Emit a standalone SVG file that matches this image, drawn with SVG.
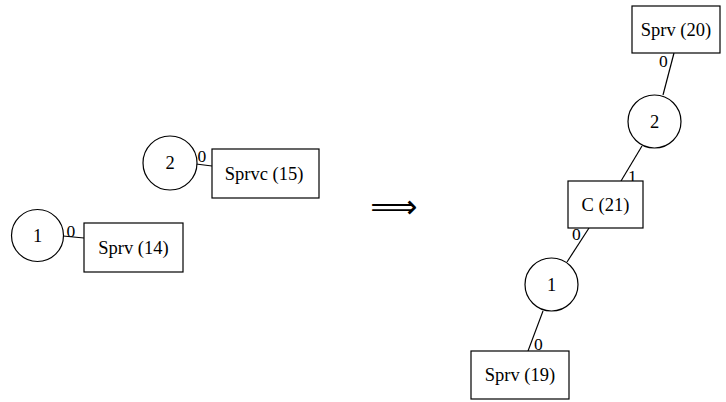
<svg xmlns="http://www.w3.org/2000/svg" width="726" height="402" viewBox="0 0 726 402">
<style>
.n{fill:#fff;stroke:#000;stroke-width:1.2}
.t{font-family:"Liberation Serif","Times New Roman",serif;font-size:18.5px;text-anchor:middle;fill:#000}
.l{font-family:"Liberation Serif","Times New Roman",serif;font-size:17.5px;fill:#000}
.e{stroke:#000;stroke-width:1.2;fill:none}
</style>
<rect width="726" height="402" fill="#fff"/>
<g id="connectors">
<line class="e" x1="196" y1="164" x2="212" y2="166"/>
<line class="e" x1="63" y1="236" x2="84" y2="238"/>
<line class="e" x1="674" y1="53" x2="663" y2="95"/>
<line class="e" x1="642" y1="146" x2="621" y2="181"/>
<line class="e" x1="589" y1="228" x2="567" y2="262"/>
<line class="e" x1="543" y1="311" x2="528" y2="351"/>
<text class="l" x="197.5" y="162">0</text>
<text class="l" x="66.5" y="237">0</text>
<text class="l" x="659" y="67">0</text>
<text class="l" x="628" y="182">1</text>
<text class="l" x="572" y="240">0</text>
<text class="l" x="534" y="350">0</text>
</g>
<g id="L2"><circle class="n" cx="170" cy="163" r="27"/><text class="t" x="170" y="169">2</text></g>
<g id="S15"><rect class="n" x="212" y="149" width="107" height="49"/><text class="t" x="264" y="180">Sprvc (15)</text></g>
<g id="L1"><circle class="n" cx="37.5" cy="235.5" r="26"/><text class="t" x="37.5" y="241.5">1</text></g>
<g id="S14"><rect class="n" x="84" y="223" width="99" height="49"/><text class="t" x="133.5" y="254">Sprv (14)</text></g>
<g id="arrow"><text x="394" y="218" style="font-family:'DejaVu Sans',sans-serif;font-size:33px;text-anchor:middle">⟹</text></g>
<g id="S20"><rect class="n" x="632" y="6" width="88" height="47"/><text class="t" x="676" y="36">Sprv (20)</text></g>
<g id="R2"><circle class="n" cx="654.5" cy="121.5" r="26.5"/><text class="t" x="654.5" y="127.5">2</text></g>
<g id="C21"><rect class="n" x="568" y="181" width="75" height="47"/><text class="t" x="605.5" y="211">C (21)</text></g>
<g id="R1"><circle class="n" cx="551.5" cy="284.5" r="26.5"/><text class="t" x="551.5" y="290.5">1</text></g>
<g id="S19"><rect class="n" x="471" y="351" width="98" height="48"/><text class="t" x="520" y="381">Sprv (19)</text></g>
</svg>
